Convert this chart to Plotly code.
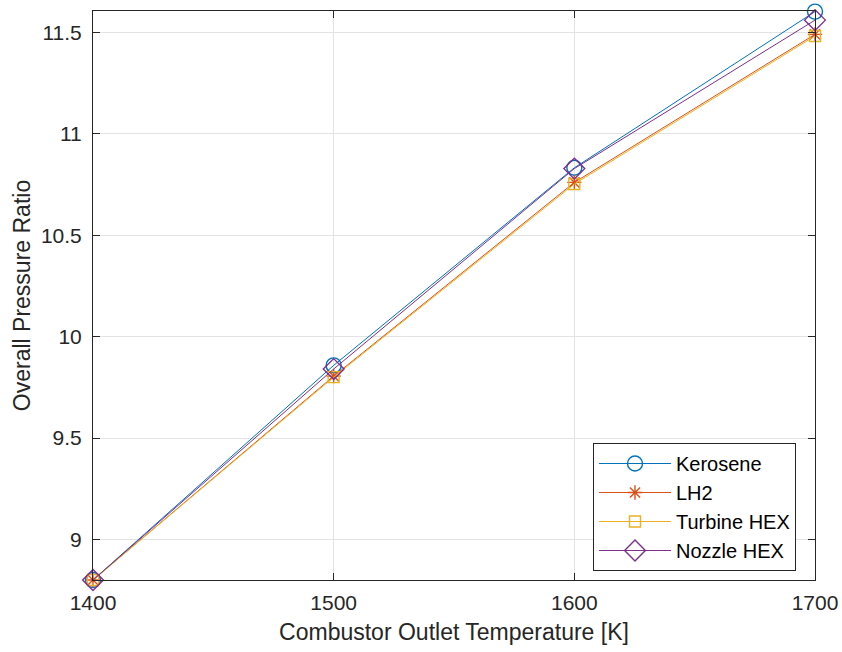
import plotly.graph_objects as go

temps = [1400, 1500, 1600, 1700]
kerosene = [8.80, 9.858, 10.832, 11.602]
lh2 = [8.80, 9.805, 10.760, 11.490]
turbine_hex = [8.80, 9.800, 10.752, 11.482]
nozzle_hex = [8.80, 9.840, 10.828, 11.560]

series = [
    ("Kerosene", kerosene, "#0072BD", "circle-open", 15),
    ("LH2", lh2, "#D95319", "asterisk-open", 12),
    ("Turbine HEX", turbine_hex, "#EDB120", "square-open", 11),
    ("Nozzle HEX", nozzle_hex, "#7E2F8E", "diamond-open", 16),
]

fig = go.Figure()
for name, ys, color, sym, sz in series:
    fig.add_trace(go.Scatter(
        x=temps, y=ys, name=name, mode="lines+markers",
        line=dict(color=color, width=1),
        marker=dict(symbol=sym, size=sz, color=color, line=dict(color=color, width=1.4)),
        cliponaxis=False,
    ))

FONT = "Liberation Sans, Arial, Helvetica, sans-serif"
axis_common = dict(
    showline=True, linecolor="#262626", linewidth=1, mirror="ticks",
    ticks="inside", ticklen=7, tickcolor="#262626",
    showgrid=True, gridcolor="#E3E3E3", gridwidth=1,
    zeroline=False, automargin=False,
    tickfont=dict(family=FONT, size=21, color="#262626"),
)

fig.update_layout(
    width=842, height=652,
    margin=dict(l=93, r=27, t=11, b=72),
    plot_bgcolor="white", paper_bgcolor="white",
    font=dict(family=FONT, color="#262626"),
    xaxis=dict(
        range=[1400, 1700], tickvals=[1400, 1500, 1600, 1700],
        title=dict(text="Combustor Outlet Temperature [K]", font=dict(size=23), standoff=10),
        ticklabelstandoff=4,
        **axis_common,
    ),
    yaxis=dict(
        range=[8.8, 11.605], tickvals=[9, 9.5, 10, 10.5, 11, 11.5],
        ticktext=["9", "9.5", "10", "10.5", "11", "11.5"],
        title=dict(text="Overall Pressure Ratio", font=dict(size=23), standoff=3),
        ticklabelstandoff=6,
        **axis_common,
    ),
    legend=dict(
        x=(593 - 93) / (842 - 93 - 27), y=(580 - 443) / (580 - 11),
        xanchor="left", yanchor="top",
        bgcolor="white", bordercolor="#262626", borderwidth=1,
        font=dict(family=FONT, size=20, color="#000000"),
        itemwidth=72,
        tracegroupgap=0,
    ),
    showlegend=True,
)

fig.write_html("out.html")
